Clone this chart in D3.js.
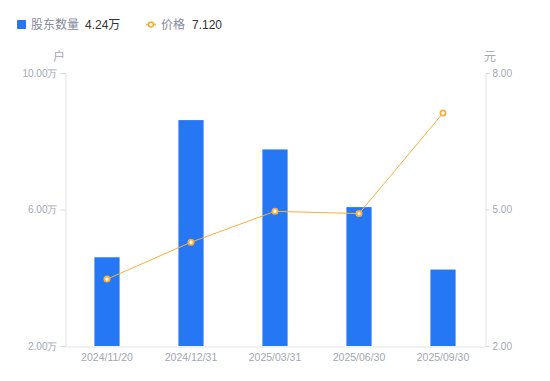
<!DOCTYPE html>
<html>
<head>
<meta charset="utf-8">
<script src="https://cdn.jsdelivr.net/npm/d3@7"></script>
<style>
  body { margin: 0; background: #fff; }
  svg { display: block; font-family: "Liberation Sans", Arial, "Noto Sans CJK SC", sans-serif; }
</style>
</head>
<body>
<svg id="chart"></svg>
<script>
// data
const dates = ['2024/11/20', '2024/12/31', '2025/03/31', '2025/06/30', '2025/09/30']
const holders = [4.60, 8.62, 7.76, 6.07, 4.24]   // 万户
const prices = [3.47, 4.28, 4.96, 4.91, 7.12]    // 元
const leftTicks = [2, 6, 10]
const rightTicks = [2, 5, 8]

const width = 550, height = 381
const margin = { top: 73, right: 65, bottom: 35, left: 65 }
const blue = '#2577f4'
const orange = '#f8b03c'
const gray = '#a3a6b4'

const svg = d3.select('#chart')
    .attr('width', width)
    .attr('height', height)

const x = d3.scaleBand()
    .domain(dates)
    .range([margin.left, width - margin.right])

const yL = d3.scaleLinear()
    .domain([2, 10])
    .range([height - margin.bottom, margin.top])

const yR = d3.scaleLinear()
    .domain([2, 8])
    .range([height - margin.bottom, margin.top])

// axes
const leftAxis = svg.append('g')
    .attr('transform', `translate(${margin.left + 0.5},0)`)
    .call(d3.axisLeft(yL).tickValues(leftTicks).tickSize(5).tickPadding(3)
        .tickFormat(d => d3.format('.2f')(d) + '万'))
const rightAxis = svg.append('g')
    .attr('transform', `translate(${width - margin.right + 0.5},0)`)
    .call(d3.axisRight(yR).tickValues(rightTicks).tickSize(4).tickPadding(3)
        .tickFormat(d3.format('.2f')))
const bottomAxis = svg.append('g')
    .attr('transform', `translate(0,${height - margin.bottom + 0.5})`)
    .call(d3.axisBottom(x).tickSize(0).tickPadding(7))

;[leftAxis, rightAxis, bottomAxis].forEach(g => {
    g.select('.domain').attr('stroke', '#e3e3e6')
    g.selectAll('.tick line').attr('stroke', '#d8d8dc')
    g.selectAll('.tick text').attr('fill', gray).attr('font-size', 10)
})
bottomAxis.selectAll('.tick text').attr('font-size', 10.5)

// unit labels
svg.append('text').attr('x', 59).attr('y', 61).attr('text-anchor', 'middle')
    .attr('fill', gray).attr('font-size', 12).text('户')
svg.append('text').attr('x', 490).attr('y', 61).attr('text-anchor', 'middle')
    .attr('fill', gray).attr('font-size', 12).text('元')

// bars
const barW = x.bandwidth() * 0.3
svg.append('g')
    .selectAll('rect')
    .data(holders)
    .join('rect')
    .attr('x', (d, i) => x(dates[i]) + (x.bandwidth() - barW) / 2)
    .attr('y', d => yL(d))
    .attr('width', barW)
    .attr('height', d => yL(2) - yL(d))
    .attr('fill', blue)

// price line
const line = d3.line()
    .x((d, i) => x(dates[i]) + x.bandwidth() / 2)
    .y(d => yR(d))
svg.append('path')
    .datum(prices)
    .attr('d', line)
    .attr('fill', 'none')
    .attr('stroke', orange)
    .attr('stroke-width', 1)
svg.append('g')
    .selectAll('circle')
    .data(prices)
    .join('circle')
    .attr('cx', (d, i) => x(dates[i]) + x.bandwidth() / 2)
    .attr('cy', d => yR(d))
    .attr('r', 2.6)
    .attr('fill', '#fff')
    .attr('stroke', orange)
    .attr('stroke-width', 1.8)

// legend
const legend = svg.append('g').attr('font-size', 12)
legend.append('rect').attr('x', 17).attr('y', 20).attr('width', 9).attr('height', 9)
    .attr('rx', 1).attr('fill', blue)
legend.append('text').attr('x', 31).attr('y', 29).attr('fill', '#86899a').text('股东数量')
legend.append('text').attr('x', 85).attr('y', 29).attr('fill', '#333').text(d3.format('.2f')(holders[4]) + '万')

legend.append('line').attr('x1', 146).attr('x2', 156).attr('y1', 24.5).attr('y2', 24.5)
    .attr('stroke', orange).attr('stroke-width', 1.5)
legend.append('circle').attr('cx', 151).attr('cy', 24.5).attr('r', 2.4)
    .attr('fill', '#fff').attr('stroke', orange).attr('stroke-width', 1.6)
legend.append('text').attr('x', 161).attr('y', 29).attr('fill', '#86899a').text('价格')
legend.append('text').attr('x', 192).attr('y', 29).attr('fill', '#333').text(d3.format('.3f')(prices[4]))
</script>
</body>
</html>
